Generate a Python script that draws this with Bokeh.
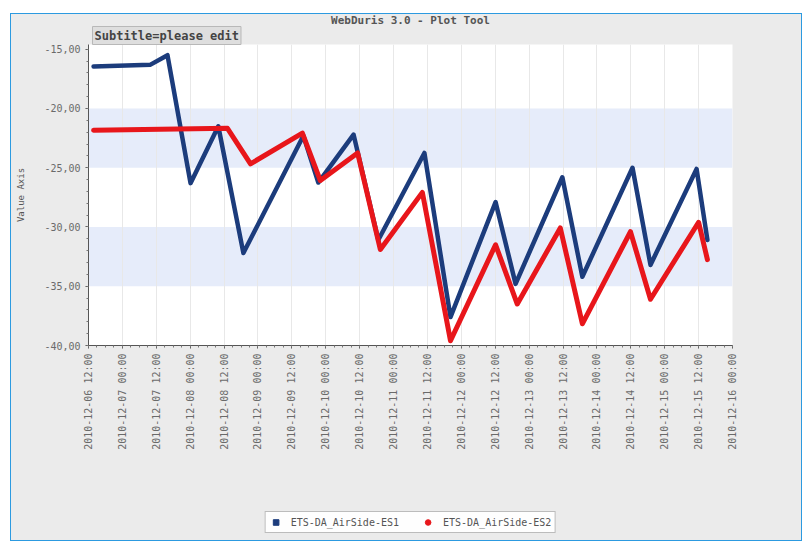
from bokeh.plotting import figure
from bokeh.models import (BoxAnnotation, Legend, LegendItem, FixedTicker,
                          Range1d, Grid, Title, Spacer)
from bokeh.layouts import column, row
from bokeh.embed import file_html
from bokeh.resources import INLINE
from math import pi

# ---------------- data ----------------
tick_labels = ["2010-12-06 12:00", "2010-12-07 00:00", "2010-12-07 12:00", "2010-12-08 00:00",
               "2010-12-08 12:00", "2010-12-09 00:00", "2010-12-09 12:00", "2010-12-10 00:00",
               "2010-12-10 12:00", "2010-12-11 00:00", "2010-12-11 12:00", "2010-12-12 00:00",
               "2010-12-12 12:00", "2010-12-13 00:00", "2010-12-13 12:00", "2010-12-14 00:00",
               "2010-12-14 12:00", "2010-12-15 00:00", "2010-12-15 12:00", "2010-12-16 00:00"]
y_ticks = [-40, -35, -30, -25, -20, -15]
y_tick_labels = ["-40,00", "-35,00", "-30,00", "-25,00", "-20,00", "-15,00"]

s1_name = "ETS-DA_AirSide-ES1"
s1_x = [0.15, 1.83, 2.33, 3.01, 3.83, 4.57, 6.34, 6.78, 7.82, 8.55, 9.91, 10.68,
        12.01, 12.60, 13.98, 14.57, 16.05, 16.58, 17.94, 18.26]
s1_y = [-16.45, -16.3, -15.5, -26.3, -21.5, -32.2, -22.3, -26.25, -22.2, -31.1, -23.75, -37.6,
        -27.9, -34.8, -25.8, -34.2, -25.0, -33.2, -25.1, -31.1]

s2_name = "ETS-DA_AirSide-ES2"
s2_x = [0.15, 4.10, 4.78, 6.31, 6.84, 7.94, 8.61, 9.85, 10.68, 12.01, 12.65, 13.92,
        14.57, 15.99, 16.58, 18.00, 18.26]
s2_y = [-21.83, -21.67, -24.67, -22.08, -26.08, -23.75, -31.9, -27.08, -39.6, -31.5, -36.5, -30.08,
        -38.17, -30.4, -36.1, -29.6, -32.75]

band_ranges = [(-25, -20), (-35, -30)]

title_text = "WebDuris 3.0 - Plot Tool"
subtitle_text = "Subtitle=please edit"
y_axis_label = "Value Axis"

PANEL = "#ebebeb"
BLUE = "#1c3c7c"
RED = "#e8161b"
MONO = "DejaVu Sans Mono"

# ---------------- main figure ----------------
p = figure(width=790, height=490, output_backend="svg", toolbar_location=None,
           x_range=Range1d(0, len(tick_labels) - 1), y_range=Range1d(-40, -14.6),
           min_border_left=77, min_border_right=69, min_border_top=28, min_border_bottom=159)
p.border_fill_color = PANEL
p.background_fill_color = "white"
p.outline_line_color = None

for lo, hi in band_ranges:
    p.add_layout(BoxAnnotation(bottom=lo, top=hi, fill_color="#e6ecfa", fill_alpha=1,
                               line_color=None, level="underlay"))
grids = [r for r in p.center if isinstance(r, Grid)]
p.center = [r for r in p.center if not isinstance(r, Grid)] + grids
p.xgrid.grid_line_color = "#e8e8e8"
p.ygrid.grid_line_color = None

p.line(s1_x, s1_y, line_color=BLUE, line_width=4.5, line_join="round", line_cap="round")
p.line(s2_x, s2_y, line_color=RED, line_width=5, line_join="round", line_cap="round")

p.xaxis.ticker = FixedTicker(ticks=list(range(len(tick_labels))),
                             minor_ticks=[i * 0.25 for i in range(4 * (len(tick_labels) - 1) + 1)])
p.xaxis.major_label_overrides = {i: t for i, t in enumerate(tick_labels)}
p.xaxis.major_label_orientation = pi / 2
p.yaxis.ticker = FixedTicker(ticks=y_ticks, minor_ticks=list(range(-40, -14)))
p.yaxis.major_label_overrides = {v: t for v, t in zip(y_ticks, y_tick_labels)}
for ax in (p.xaxis, p.yaxis):
    ax.axis_line_color = "#555555"
    ax.major_tick_line_color = "#555555"
    ax.minor_tick_line_color = "#777777"
    ax.major_label_text_color = "#6a6a6a"
    ax.major_label_text_font = MONO
    ax.major_label_text_font_size = "10px"
    ax.major_tick_out = 3
    ax.major_tick_in = 0
    ax.minor_tick_out = 2
    ax.minor_tick_in = 0
p.yaxis.axis_label = y_axis_label
p.yaxis.axis_label_text_font = MONO
p.yaxis.axis_label_text_font_size = "9px"
p.yaxis.axis_label_text_font_style = "normal"
p.yaxis.axis_label_text_color = "#555555"
p.yaxis.axis_label_standoff = 15

sub = Title(text=subtitle_text, align="left", offset=4, standoff=0,
            text_font=MONO, text_font_size="12px", text_font_style="bold",
            text_color="#444444", background_fill_color="#dedede",
            border_line_color="#b8b8b8", padding=2)
main = Title(text=title_text, align="center", standoff=-5, offset=-10,
             text_font=MONO, text_font_size="11px", text_font_style="bold",
             text_color="#555555")
p.add_layout(sub, "above")
p.add_layout(main, "above")

# ---------------- legend strip ----------------
lf = figure(width=790, height=36, output_backend="svg", toolbar_location=None,
            x_axis_type=None, y_axis_type=None, x_range=Range1d(0, 1), y_range=Range1d(0, 1),
            min_border=0)
lf.border_fill_color = PANEL
lf.background_fill_color = PANEL
lf.outline_line_color = None
lf.xgrid.visible = False
lf.ygrid.visible = False
g1 = lf.scatter([-5], [-5], marker="square", size=10, fill_color=BLUE, line_color=BLUE)
g2 = lf.scatter([-5], [-5], marker="circle", size=11, fill_color=RED, line_color=RED)
legend = Legend(items=[LegendItem(label=s1_name, renderers=[g1]),
                       LegendItem(label=s2_name, renderers=[g2])],
                orientation="horizontal", location="center",
                label_text_font=MONO, label_text_font_size="10px",
                label_text_color="#555555", border_line_color="#7a7a7a", border_line_width=1.5,
                background_fill_color="white", glyph_width=14, glyph_height=14,
                padding=3, spacing=22, margin=0, label_standoff=8)
lf.add_layout(legend, "center")

inner = column(p, lf, spacing=0,
               styles={"border": "1px solid #2c9ae0", "background-color": PANEL})
layout = column(Spacer(height=13), row(Spacer(width=10), inner, spacing=0), spacing=0)

open("out.html", "w").write(file_html(layout, INLINE))
